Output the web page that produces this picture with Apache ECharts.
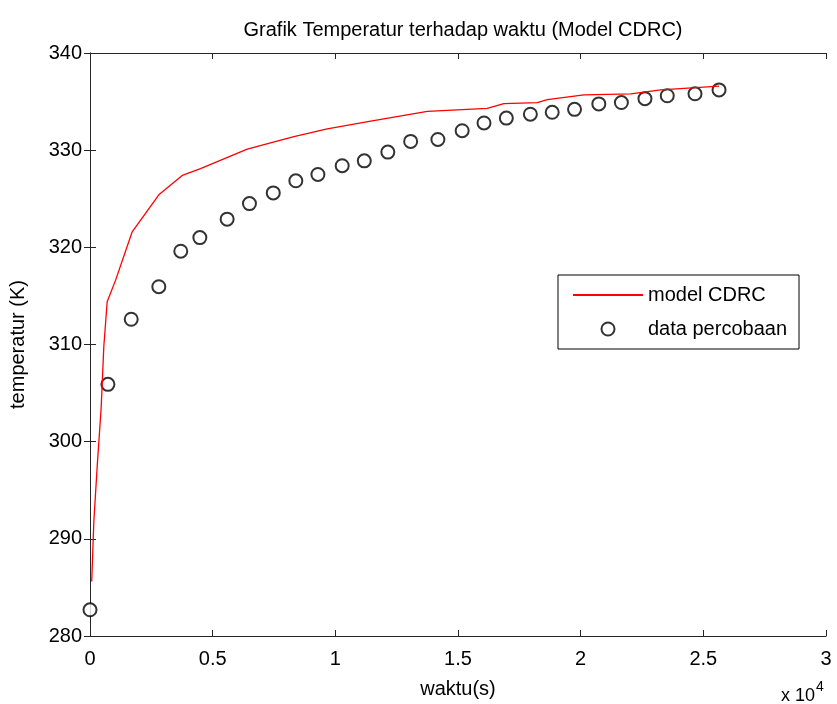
<!DOCTYPE html>
<html>
<head>
<meta charset="utf-8">
<script src="https://cdn.jsdelivr.net/npm/echarts@6/dist/echarts.min.js"></script>
<style>
  html, body { margin: 0; padding: 0; background: #fff; }
  #main { width: 837px; height: 704px; }
</style>
</head>
<body>
<div id="main"></div>
<script>
// data percobaan (waktu dalam detik, temperatur dalam K)
const dataTime = [0, 730, 1680, 2805, 3700, 4478, 5590, 6500, 7470, 8390, 9290, 10280, 11180, 12140, 13070, 14180, 15170, 16060, 16970, 17950, 18840, 19750, 20740, 21660, 22620, 23530, 24660, 25640];
const dataTemp = [282.7, 305.9, 312.6, 315.95, 319.6, 321.0, 322.9, 324.5, 325.6, 326.85, 327.5, 328.4, 328.9, 329.8, 330.9, 331.1, 332.0, 332.8, 333.3, 333.7, 333.9, 334.2, 334.76, 334.9, 335.3, 335.6, 335.8, 336.2];

// model CDRC
const modelTime = [70, 155, 294, 375, 457, 563, 700, 1040, 1720, 2805, 3760, 4505, 6410, 8310, 9670, 11440, 13750, 16190, 16870, 18230, 18640, 20130, 22040, 23260, 25640];
const modelTemp = [285.6, 291.7, 297.5, 300.5, 303.6, 309.8, 314.4, 316.6, 321.6, 325.4, 327.4, 328.1, 330.1, 331.4, 332.2, 333.0, 334.0, 334.3, 334.8, 334.9, 335.2, 335.7, 335.8, 336.2, 336.6];

const seriesNames = ["model CDRC", "data percobaan"];

const chartDom = document.getElementById("main");
const myChart = echarts.init(chartDom);

const font = "'Liberation Sans', Arial, Helvetica, sans-serif";
const axisColor = "#262626";

const tickStyle = { inside: true, length: 6, lineStyle: { color: axisColor } };

const option = {
  animation: false,
  backgroundColor: "#fff",
  textStyle: { fontFamily: font },
  title: {
    text: "Grafik Temperatur terhadap waktu (Model CDRC)",
    left: 458,
    textAlign: "center",
    top: 15,
    textStyle: { fontSize: 20, fontWeight: "normal", color: "#000", fontFamily: font },
  },
  grid: { left: 90, right: 11, top: 53, bottom: 68 },
  legend: {
    left: 558,
    top: 275,
    orient: "vertical",
    padding: [10, 12, 10, 14],
    itemGap: 14,
    itemWidth: 70,
    itemHeight: 13,
    borderColor: "#000",
    borderWidth: 1,
    backgroundColor: "#fff",
    textStyle: { fontSize: 20, color: "#000", fontFamily: font, lineHeight: 18 },
    data: [
      { name: seriesNames[0], itemStyle: { opacity: 0 } },
      { name: seriesNames[1] },
    ],
  },
  xAxis: [
    {
      type: "value",
      min: 0,
      max: 30000,
      interval: 5000,
      name: "waktu(s)",
      nameLocation: "middle",
      nameGap: 43,
      nameTextStyle: { fontSize: 20, color: "#000" },
      axisLine: { lineStyle: { color: axisColor } },
      axisTick: tickStyle,
      axisLabel: {
        fontSize: 20,
        color: "#000",
        margin: 13,
        formatter: (v) => String(v / 10000),
      },
      splitLine: { show: false },
    },
    {
      type: "value",
      position: "top",
      min: 0,
      max: 30000,
      interval: 5000,
      axisLine: { lineStyle: { color: axisColor } },
      axisTick: tickStyle,
      axisLabel: { show: false },
      splitLine: { show: false },
    },
  ],
  yAxis: [
    {
      type: "value",
      min: 280,
      max: 340,
      interval: 10,
      name: "temperatur (K)",
      nameLocation: "middle",
      nameGap: 62,
      nameRotate: 90,
      nameTextStyle: { fontSize: 20, color: "#000" },
      axisLine: { show: true, lineStyle: { color: axisColor } },
      axisTick: tickStyle,
      axisLabel: { fontSize: 20, color: "#000", margin: 8 },
      splitLine: { show: false },
    },
    {
      type: "value",
      position: "right",
      min: 280,
      max: 340,
      interval: 10,
      axisLine: { show: true, lineStyle: { color: axisColor } },
      axisTick: tickStyle,
      axisLabel: { show: false },
      splitLine: { show: false },
    },
  ],
  graphic: [
    {
      type: "text",
      left: 781,
      top: 680,
      style: {
        text: "{a|x 10}{b|4}",
        rich: {
          a: { fontSize: 18, fontFamily: font, fill: "#000", padding: [12, 0, 0, 0] },
          b: { fontSize: 14, fontFamily: font, fill: "#000", padding: [0, 0, 6, 1] },
        },
      },
    },
  ],
  series: [
    {
      name: seriesNames[0],
      type: "line",
      symbol: "none",
      lineStyle: { color: "#ff0000", width: 1.3 },
      itemStyle: { color: "#ff0000" },
      data: modelTime.map((t, i) => [t, modelTemp[i]]),
    },
    {
      name: seriesNames[1],
      type: "scatter",
      symbol: "emptyCircle",
      symbolSize: 13,
      itemStyle: { color: "#000", borderColor: "#000", borderWidth: 1.3 },
      data: dataTime.map((t, i) => [t, dataTemp[i]]),
    },
  ],
};

myChart.setOption(option);
</script>
</body>
</html>
